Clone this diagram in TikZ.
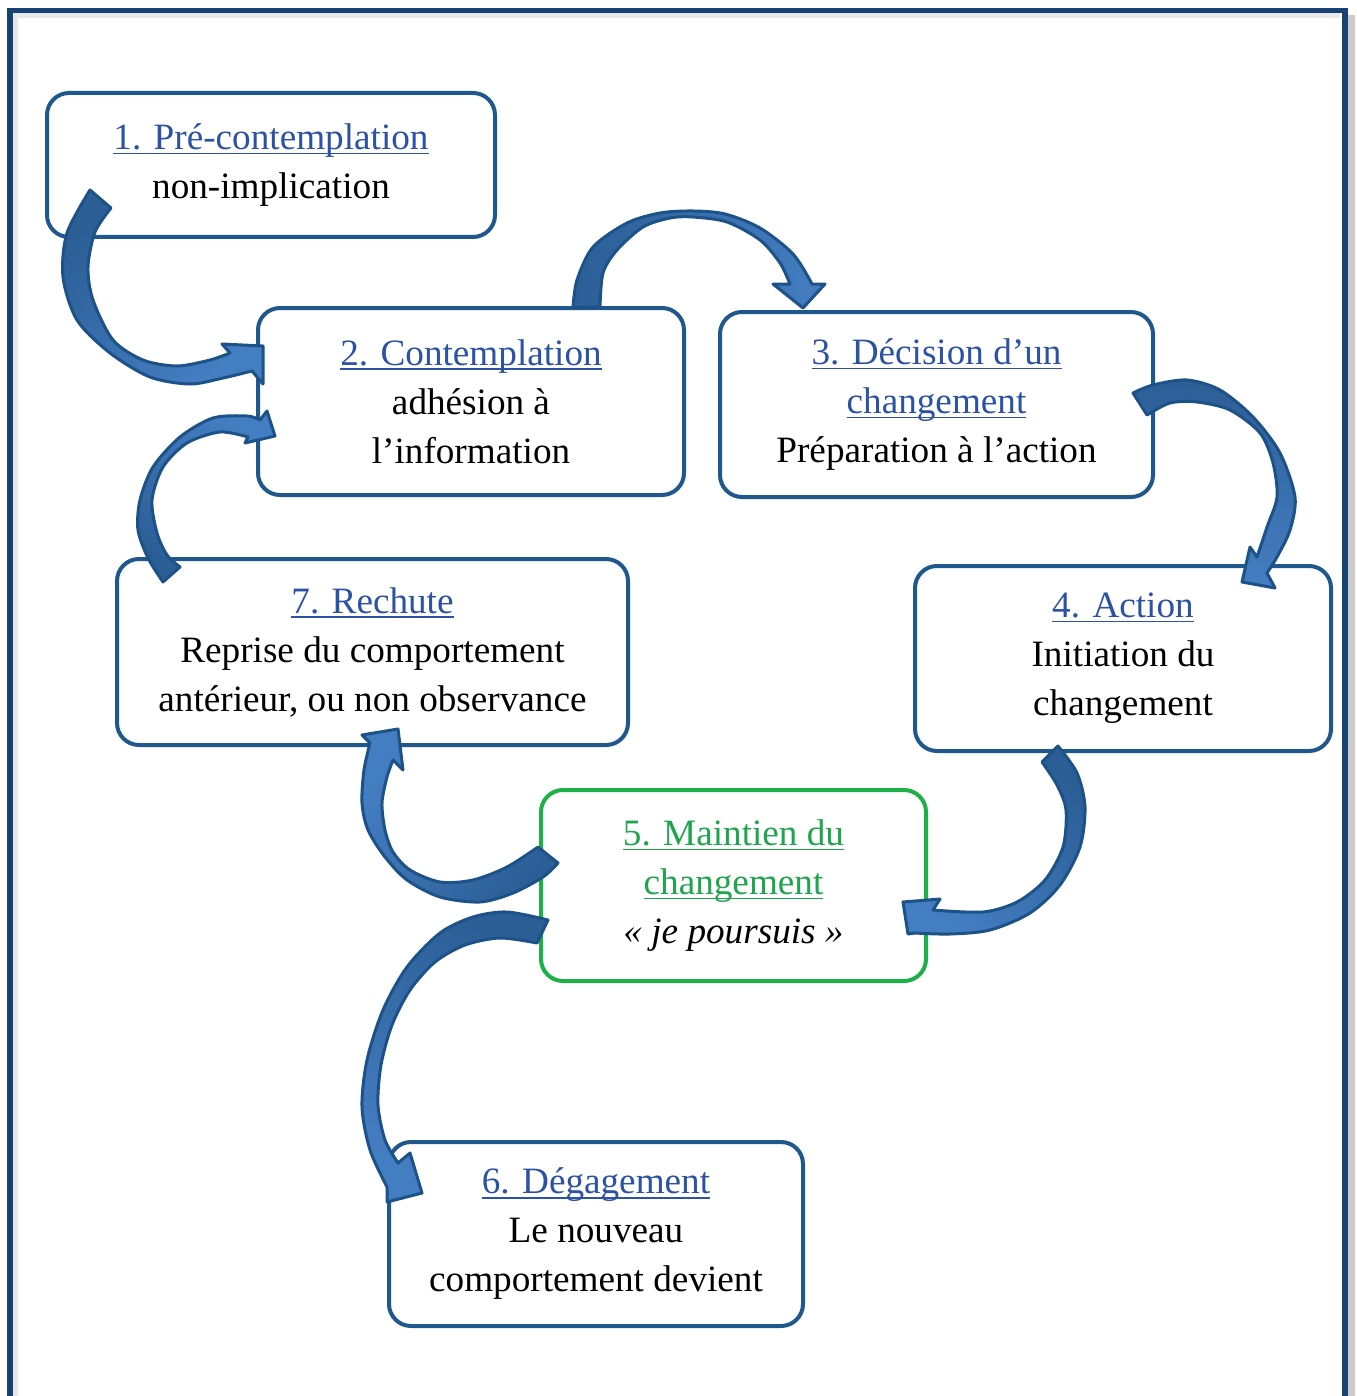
\documentclass[tikz,border=0pt]{standalone}
\usepackage{amsmath}
\usepackage{fontspec}
\setmainfont{Liberation Serif}
\usepackage{tikz}
\usetikzlibrary{positioning}

\definecolor{frameblue}{RGB}{24,66,115}
\definecolor{boxblue}{RGB}{31,88,140}
\definecolor{ttlblue}{RGB}{44,82,165}
\definecolor{ttlgreen}{RGB}{31,165,77}
\definecolor{boxgreen}{RGB}{30,176,72}
\definecolor{arrdark}{RGB}{44,94,150}
\definecolor{arrlight}{RGB}{68,126,194}
\definecolor{arredge}{RGB}{28,82,135}

% underlined stage title, Word style
\newcommand{\stagetitle}[2][ttlblue]{{\color{#1}\setbox0=\hbox{#2}\rlap{\rule[-2.3pt]{\wd0}{0.75pt}}\box0}}

\begin{document}
\begin{tikzpicture}[
		x=0.5pt, y=-0.5pt,
		font=\fontsize{18.6}{24.5}\selectfont,
		stage/.style={draw=boxblue, line width=2pt, rounded corners=11pt,
				fill=white, align=center, inner sep=0pt},
		keystage/.style={stage, draw=boxgreen},
		bandarrow/.style={left color=arrdark, right color=arrlight,
				draw=arredge, line width=1.5pt, line join=round}]

	\useasboundingbox (0,0) rectangle (1356,1396);

	% frame
	\draw[gray!18, line width=2.5pt] (15,1400) -- (15,16) -- (1340,16);
	\draw[gray!40, line width=3.5pt] (1351,15) -- (1351,1400);
	\draw[frameblue, line width=2.6pt] (10,1400) -- (10,10.5) -- (1345,10.5) -- (1345,1400);

	% Stages
	\node[stage, minimum width=224pt, minimum height=72pt] (pre) at (271,165)
	{\stagetitle{1. Pré-contemplation}\\non-implication};
	\node[stage, minimum width=213pt, minimum height=93.5pt] (contemp) at (471,401.5)
	{\stagetitle{2. Contemplation}\\adhésion à\\l’information};
	\node[stage, minimum width=216.5pt, minimum height=92.5pt] (decision) at (936.5,404.5)
	{\stagetitle{3. Décision d’un}\\\stagetitle{changement}\\Préparation à l’action};
	\node[stage, minimum width=208pt, minimum height=92.5pt] (action) at (1123,658.5)
	{\stagetitle{4. Action}\\Initiation du\\changement};
	\node[keystage, minimum width=192.5pt, minimum height=95.5pt] (maintien) at (733.5,885.5)
	{\stagetitle[ttlgreen]{5. Maintien du}\\\stagetitle[ttlgreen]{changement}\\\textit{« je poursuis »}};
	\node[stage, minimum width=207pt, minimum height=92pt] (degage) at (596,1234)
	{\stagetitle{6. Dégagement}\\Le nouveau\\comportement devient};
	\node[stage, minimum width=255.5pt, minimum height=93pt] (rechute) at (372.5,652)
	{\stagetitle{7. Rechute}\\Reprise du comportement\\antérieur, ou non observance};

	% 1 -> 2
	\shadedraw[bandarrow, shading angle=43] plot[smooth] coordinates {(90,190) (67,233) (63,277) (77,320) (110,353) (150,377) (190,384) (223,378) (252,371)}
	-- (263,384) -- (263,346) -- (222,344)
	-- plot[smooth] coordinates {(230,353) (210,360) (177,366) (143,360) (113,340) (93,300) (88,267) (95,232) (111,208)} -- cycle;

	% 7 -> 2
	\shadedraw[bandarrow, shading angle=147] plot[smooth] coordinates {(163,582) (148,558) (138,530) (140,500) (153,467) (180,437) (213,418) (247,416) (260,420)}
	-- (267,411) -- (275,436) -- (245,443)
	-- plot[smooth] coordinates {(248,437) (220,432) (187,443) (163,467) (152,500) (157,533) (167,555) (180,567)} -- cycle;

	% 2 -> 3
	\shadedraw[bandarrow] plot[smooth] coordinates {(573,307) (577,280) (593,247) (627,223) (660,213) (693,211) (725,214) (760,228) (793,254) (812,284)}
	-- (825,284) -- (803,308) -- (773,284)
	-- plot[smooth] coordinates {(790,284) (780,263) (760,240) (727,222) (693,217) (670,218) (643,227) (617,250) (603,273) (600,307)} -- cycle;

	% 3 -> 4
	\shadedraw[bandarrow, shading angle=0] plot[smooth] coordinates {(1133,393) (1153,385) (1187,380) (1220,390) (1253,417) (1280,453) (1295,497) (1290,530) (1277,557) (1267,573)}
	-- (1275,588) -- (1242,582) -- (1250,547)
	-- plot[smooth] coordinates {(1257,557) (1267,527) (1277,497) (1273,463) (1260,433) (1230,410) (1197,402) (1170,403) (1147,415)} -- cycle;

	% 4 -> 5
	\shadedraw[bandarrow, shading angle=318] plot[smooth] coordinates {(1058,746) (1077,773) (1085,807) (1080,847) (1060,885) (1030,913) (990,930) (950,934) (915,933)}
	-- (908,934) -- (903,902) -- (940,899)
	-- plot[smooth] coordinates {(933,910) (983,912) (1017,902) (1045,880) (1063,847) (1066,810) (1057,785) (1042,762)} -- cycle;

	% 5 -> 7
	\shadedraw[bandarrow, shading angle=235] plot[smooth] coordinates {(558,863) (543,877) (513,893) (480,902) (440,897) (407,880) (385,857) (368,830) (362,803) (364,770) (370,743)}
	-- (362,735) -- (398,729) -- (403,770)
	-- plot[smooth] coordinates {(393,760) (387,777) (382,803) (385,830) (393,852) (410,870) (440,882) (473,880) (507,867) (538,847)} -- cycle;

	% 5 -> 6
	\shadedraw[bandarrow, shading angle=331] plot[smooth] coordinates {(548,920) (507,912) (473,917) (440,933) (407,967) (383,1010) (367,1060) (362,1107) (370,1150) (387,1187)}
	-- (387,1202) -- (422,1193) -- (410,1153)
	-- plot[smooth] coordinates {(398,1163) (385,1140) (378,1105) (381,1065) (392,1025) (410,990) (435,962) (465,945) (500,938) (537,943)} -- cycle;

\end{tikzpicture}
\end{document}
